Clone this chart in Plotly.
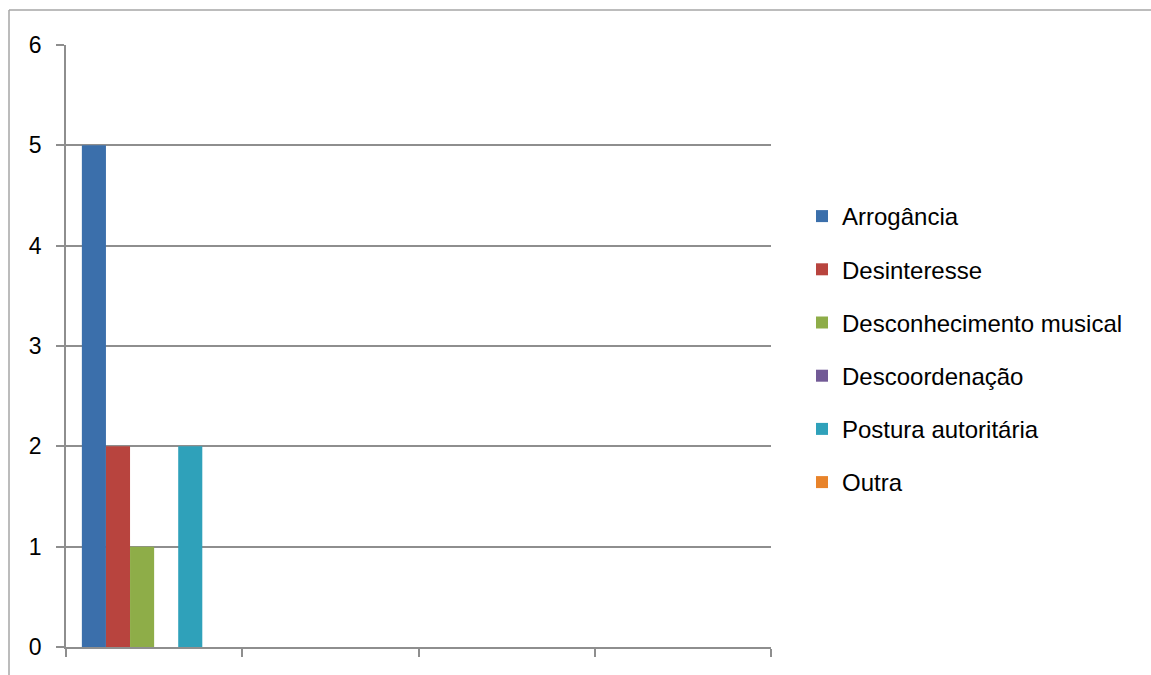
import plotly.graph_objects as go

categories = ["1", "2", "3", "4"]
series_names = ["Arrogância", "Desinteresse", "Desconhecimento musical",
                "Descoordenação", "Postura autoritária", "Outra"]
arrogancia = [5, None, None, None]
desinteresse = [2, None, None, None]
desconhecimento = [1, None, None, None]
descoordenacao = [0, None, None, None]
postura = [2, None, None, None]
outra = [0, None, None, None]
y_ticks = [0, 1, 2, 3, 4, 5, 6]

series_values = [arrogancia, desinteresse, desconhecimento, descoordenacao, postura, outra]
colors = ["#3b6fab", "#b8443e", "#8ead48", "#725a96", "#2fa1ba", "#e8832a"]

W, H = 1151, 675
L, R_EDGE, T, B_EDGE = 66, 771, 45, 647
PW, PH = R_EDGE - L, B_EDGE - T

x_pos = list(range(len(categories)))
fig = go.Figure()
for i, (name, vals, col) in enumerate(zip(series_names, series_values, colors)):
    fig.add_trace(go.Bar(
        x=x_pos, y=vals, name=name, legendgroup=f"g{i}",
        marker=dict(color=col, line=dict(width=0)),
    ))

font_family = "Liberation Sans, Arial, sans-serif"
grid_col = "#8e8e8e"
frame_col = "#a6a6a6"
fx0 = (9 - L) / PW
fy1 = (B_EDGE - 10) / PH

fig.update_layout(
    width=W, height=H,
    paper_bgcolor="white", plot_bgcolor="white",
    margin=dict(l=L, r=W - R_EDGE, t=T, b=H - B_EDGE),
    barmode="group", bargap=0.18, bargroupgap=0,
    font=dict(family=font_family, size=24, color="#000000"),
    showlegend=True,
    legend=dict(
        x=(802 - L) / PW, xanchor="left",
        y=(B_EDGE - 194) / PH, yanchor="top",
        tracegroupgap=19, traceorder="grouped",
        font=dict(family=font_family, size=24, color="#000000"),
        bgcolor="rgba(0,0,0,0)",
    ),
    xaxis=dict(
        range=[-0.5, len(categories) - 0.5],
        tickvals=[i - 0.5 for i in range(len(categories) + 1)],
        showticklabels=False, ticks="outside", ticklen=8, tickwidth=1.5,
        tickcolor=grid_col, showline=True, linecolor=grid_col, linewidth=1.5,
        showgrid=False, zeroline=False, fixedrange=True,
    ),
    yaxis=dict(
        range=[0, 6], tickvals=y_ticks, ticks="outside", ticklen=8, tickwidth=1.5,
        tickcolor=grid_col, showline=True, linecolor=grid_col, linewidth=1.5,
        showgrid=True, gridcolor=grid_col, gridwidth=1.5, zeroline=False,
        tickfont=dict(family=font_family, size=23, color="#000000"),
        ticklabelstandoff=10,
    ),
    shapes=[
        dict(type="line", xref="paper", yref="paper",
             x0=fx0, x1=3.0, y0=fy1, y1=fy1,
             line=dict(color=frame_col, width=1.5), layer="below"),
        dict(type="line", xref="paper", yref="paper",
             x0=fx0, x1=fx0, y0=fy1, y1=-1.0,
             line=dict(color=frame_col, width=1.5), layer="below"),
    ],
)

fig.write_html(
    "out.html",
    config={"displayModeBar": False},
    post_script="document.body.style.margin='0';document.body.style.overflow='hidden';",
)
